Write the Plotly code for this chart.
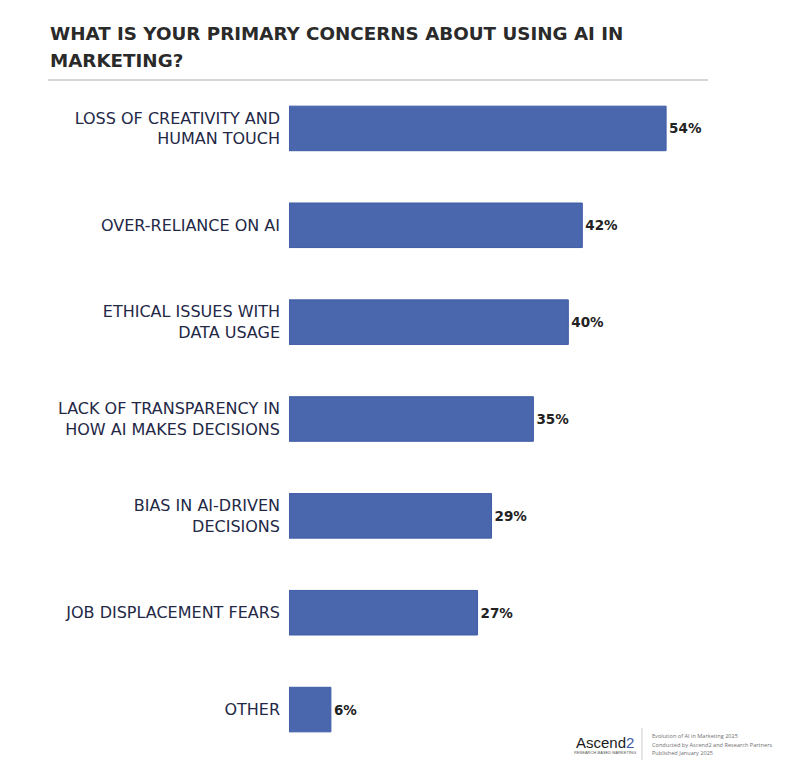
import plotly.graph_objects as go

# survey answers, top to bottom
categories = [
    "LOSS OF CREATIVITY AND<br>HUMAN TOUCH",
    "OVER-RELIANCE ON AI",
    "ETHICAL ISSUES WITH<br>DATA USAGE",
    "LACK OF TRANSPARENCY IN<br>HOW AI MAKES DECISIONS",
    "BIAS IN AI-DRIVEN<br>DECISIONS",
    "JOB DISPLACEMENT FEARS",
    "OTHER",
]
values = [54, 42, 40, 35, 29, 27, 6]
value_labels = [f"{v}%" for v in values]

title_lines = ["WHAT IS YOUR PRIMARY CONCERNS ABOUT USING AI IN", "MARKETING?"]
footer_lines = [
    "Evolution of AI in Marketing 2025",
    "Conducted by Ascend2 and Research Partners",
    "Published January 2025",
]

# page body has an 8px margin, so the figure is a bit smaller than the window
W, H = 782, 765
L, R, T, B = 281, 82, 72, 15
PW, PH = W - L - R, H - T - B


def px_x(x):
    return (x - L) / PW


def px_y(y):
    return 1 - (y - T) / PH


fig = go.Figure()
fig.add_trace(go.Bar(
    x=values,
    y=categories,
    orientation="h",
    marker=dict(color="#4a67ae", line=dict(color="#3f5ca6", width=1)),
    text=value_labels,
    textposition="outside",
    textfont=dict(family="DejaVu Sans, sans-serif", size=13.5,
                  color="#222222", weight="bold"),
    cliponaxis=False,
    hoverinfo="skip",
))

fig.update_layout(
    width=W, height=H,
    margin=dict(l=L, r=R, t=T, b=B),
    paper_bgcolor="white",
    plot_bgcolor="white",
    showlegend=False,
    bargap=0.54,
    xaxis=dict(range=[0, 60], visible=False, fixedrange=True),
    yaxis=dict(
        autorange="reversed",
        showgrid=False, zeroline=False, showline=False,
        ticks="", ticklabelstandoff=8,
        tickfont=dict(family="DejaVu Sans, sans-serif", size=16, color="#232846"),
    ),
)

# title, one annotation per line to control the spacing
for i, line in enumerate(title_lines):
    fig.add_annotation(
        x=px_x(40), y=px_y(25 + 27 * i), xref="paper", yref="paper",
        xanchor="left", yanchor="middle", align="left",
        text=f"<b>{line}</b>", showarrow=False,
        font=dict(family="DejaVu Sans, sans-serif", size=18.3, color="#2a2a2a"),
    )
# rule under title
fig.add_shape(type="line", xref="paper", yref="paper",
              x0=px_x(40), x1=px_x(700), y0=px_y(72), y1=px_y(72),
              line=dict(color="#c8c8c8", width=1.5))

# footer: logo + source text
fig.add_annotation(
    x=px_x(597), y=px_y(734), xref="paper", yref="paper",
    xanchor="center", yanchor="middle", showarrow=False,
    text="Ascend<span style='color:#3d5aa8'>2</span>",
    font=dict(family="Liberation Sans, sans-serif", size=15, color="#1a1a1a"),
)
fig.add_annotation(
    x=px_x(597), y=px_y(744), xref="paper", yref="paper",
    xanchor="center", yanchor="middle", showarrow=False,
    text="RESEARCH-BASED MARKETING",
    font=dict(family="Liberation Sans, sans-serif", size=4, color="#555555"),
)
fig.add_shape(type="line", xref="paper", yref="paper",
              x0=px_x(634), x1=px_x(634), y0=px_y(720), y1=px_y(752),
              line=dict(color="#cccccc", width=1))
for i, line in enumerate(footer_lines):
    fig.add_annotation(
        x=px_x(642), y=px_y(728 + 8.5 * i), xref="paper", yref="paper",
        xanchor="left", yanchor="middle", align="left", showarrow=False,
        text=line,
        font=dict(family="Open Sans, sans-serif", size=5.6, color="#6f6f6f"),
    )

fig.write_html("out.html")
